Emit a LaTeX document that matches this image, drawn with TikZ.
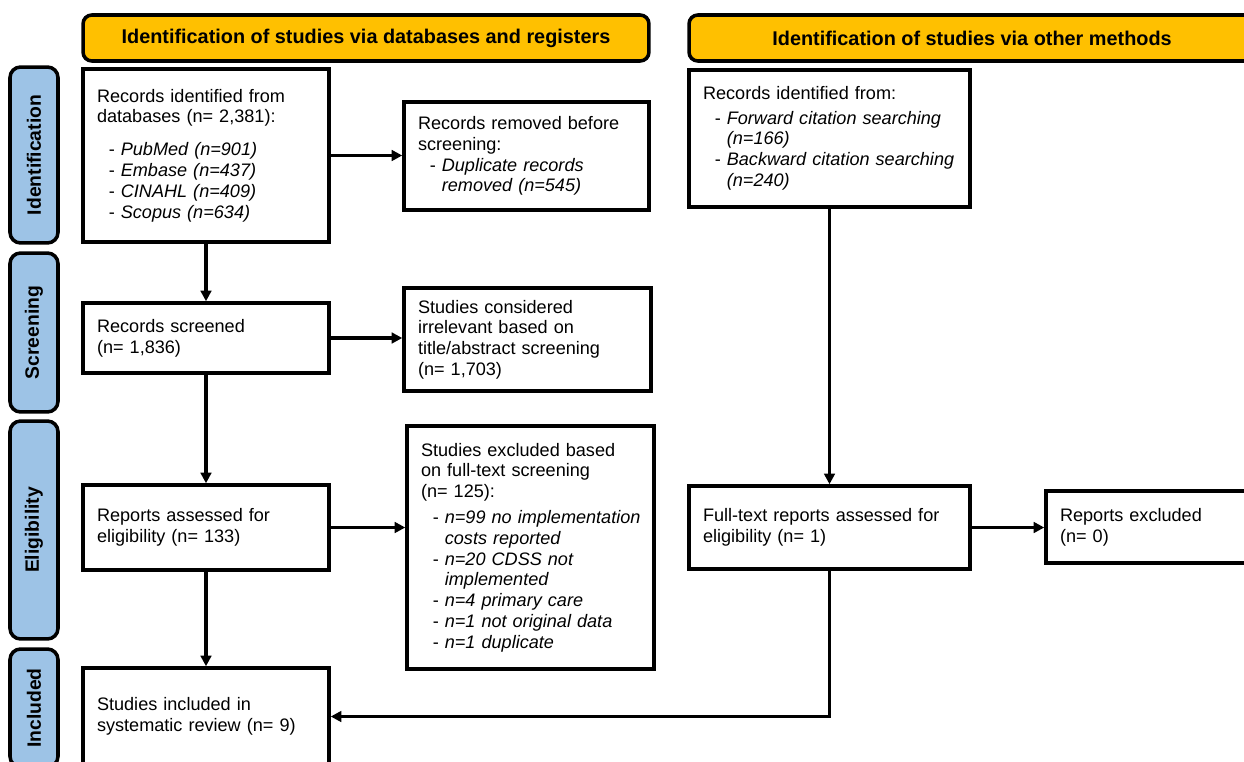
\documentclass[tikz,border=0pt]{standalone}
\usepackage{fontspec}
\setmainfont{Liberation Sans}
\usetikzlibrary{arrows.meta, positioning}
\definecolor{hdrorange}{HTML}{FFC000}
\definecolor{phaseblue}{HTML}{9DC3E6}
\newcommand{\bitem}[1]{\mbox{\hspace*{0.65em}- \textit{#1}}}
\newcommand{\bcont}[1]{\mbox{\hspace*{0.65em}\phantom{- }\textit{#1}}}

\begin{document}
\begin{tikzpicture}[x=0.02cm, y=-0.02cm, >={Triangle[length=6pt,width=6pt]}, line width=2pt,
  box/.style={draw, fill=white, align=left, inner xsep=0.28cm, font=\fontsize{10.3}{11.8}\selectfont},
  header/.style={draw, fill=hdrorange, rounded corners=5pt, minimum width=11.32cm, minimum height=0.92cm, font=\fontsize{11.3}{13}\selectfont\bfseries},
  phase/.style={draw, fill=phaseblue, rounded corners=6pt, rotate=90, minimum height=0.96cm, font=\fontsize{11}{13}\selectfont\bfseries}]
  \useasboundingbox (0,0) rectangle (1244,761);
  % Headers
  \node[header] (hdrdb) at (366,38) {Identification of studies via databases and registers};
  \node[header] (hdrother) at (972,38) {Identification of studies via other methods};
  % Phase labels
  \node[phase, minimum width=3.52cm] (phid) at (34,155) {Identification};
  \node[phase, minimum width=3.18cm] (phscr) at (34,332.5) {Screening};
  \node[phase, minimum width=4.36cm] (phelig) at (34,530) {Eligibility};
  \node[phase, minimum width=2.36cm] (phinc) at (34,708) {Included};
  % Databases and registers
  \node[box, text width=4.36cm, minimum height=3.46cm] (recdb) at (206,155.5)
    {Records identified from\\ databases (n= 2,381):\\[7pt]
     \bitem{PubMed (n=901)}\\ \bitem{Embase (n=437)}\\
     \bitem{CINAHL (n=409)}\\ \bitem{Scopus (n=634)}};
  \node[box, text width=4.34cm, minimum height=2.16cm] (removed) at (526.5,156)
    {Records removed before\\ screening:\\
     \bitem{Duplicate records}\\ \bcont{removed (n=545)}};
  \node[box, text width=4.36cm, minimum height=1.40cm] (screened) at (206,338)
    {Records screened\\ (n= 1,836)};
  \node[box, text width=4.38cm, minimum height=2.06cm] (irrel) at (527.5,339.5)
    {Studies considered\\ irrelevant based on\\ title/abstract screening\\ (n= 1,703)};
  \node[box, text width=4.36cm, minimum height=1.70cm] (assessed) at (206,527.5)
    {Reports assessed for\\ eligibility (n= 133)};
  \node[box, text width=4.38cm, minimum height=4.86cm] (ftexcl) at (530.5,547.5)
    {Studies excluded based\\ on full-text screening\\ (n= 125):\\[3pt]
     \bitem{n=99 no implementation}\\ \bcont{costs reported}\\
     \bitem{n=20 CDSS not}\\ \bcont{implemented}\\
     \bitem{n=4 primary care}\\ \bitem{n=1 not original data}\\
     \bitem{n=1 duplicate}};
  \node[box, text width=4.36cm, minimum height=1.94cm] (included) at (206,716.5)
    {Studies included in\\ systematic review (n= 9)};
  % Other methods
  \node[box, text width=5.06cm, minimum height=2.74cm] (recother) at (829.5,138.5)
    {Records identified from:\\[2pt]
     \bitem{Forward citation searching}\\ \bcont{(n=166)}\\
     \bitem{Backward citation searching}\\ \bcont{(n=240)}};
  \node[box, text width=5.06cm, minimum height=1.66cm] (ftother) at (829.5,527.5)
    {Full-text reports assessed for\\ eligibility (n= 1)};
  \node[box, text width=4.32cm, minimum height=1.44cm] (repexcl) at (1168,527)
    {Reports excluded\\ (n= 0)};
  % Arrows
  \draw[->] (recdb.east) -- (recdb.east -| removed.west);
  \draw[->] (recdb) -- (screened);
  \draw[->] (screened.east) -- (screened.east -| irrel.west);
  \draw[->] (screened) -- (assessed);
  \draw[->] (assessed.east) -- (assessed.east -| ftexcl.west);
  \draw[->] (assessed) -- (included);
  \draw[->] (recother) -- (ftother);
  \draw[->] (ftother.east) -- (ftother.east -| repexcl.west);
  \draw[->] (ftother.south) |- (included.east);
\end{tikzpicture}
\end{document}
